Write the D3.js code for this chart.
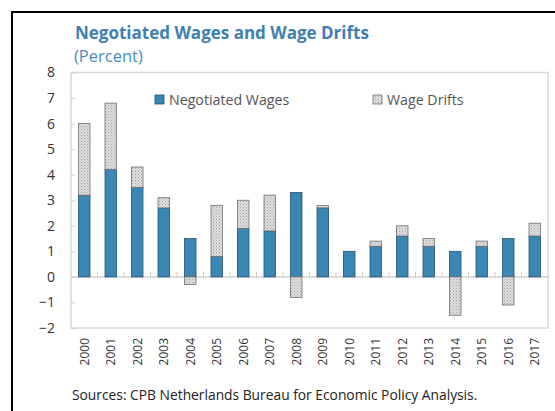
<!DOCTYPE html>
<html>
<head>
<meta charset="utf-8">
<script src="https://cdn.jsdelivr.net/npm/d3@7"></script>
<style>
  body { margin: 0; background: #fff; }
  text { font-family: "Open Sans", "Noto Sans", sans-serif; }
</style>
</head>
<body>
<div id="chart"></div>
<script>
// Data
var years = ["2000", "2001", "2002", "2003", "2004", "2005", "2006", "2007", "2008",
    "2009", "2010", "2011", "2012", "2013", "2014", "2015", "2016", "2017"];
var negotiated = [3.2, 4.2, 3.5, 2.7, 1.5, 0.8, 1.9, 1.8, 3.3, 2.7, 1.0, 1.2, 1.6, 1.2, 1.0, 1.2, 1.5, 1.6];
var drifts = [2.8, 2.6, 0.8, 0.4, -0.3, 2.0, 1.1, 1.4, -0.8, 0.1, 0.0, 0.2, 0.4, 0.3, -1.5, 0.2, -1.1, 0.5];
var yTicks = [-2, -1, 0, 1, 2, 3, 4, 5, 6, 7, 8];
var seriesNames = ["Negotiated Wages", "Wage Drifts"];

var svgWidth = 555;
var svgHeight = 411;

// plot box
var plot = { left: 71, right: 548, top: 72.5, bottom: 328 };

var svg = d3.select("#chart").append("svg")
    .attr("width", svgWidth)
    .attr("height", svgHeight);

// dotted pattern for wage drifts
var defs = svg.append("defs");
var pat = defs.append("pattern")
    .attr("id", "stipple")
    .attr("patternUnits", "userSpaceOnUse")
    .attr("width", 3)
    .attr("height", 3);
pat.append("rect").attr("width", 3).attr("height", 3).attr("fill", "#dedede");
pat.append("rect").attr("x", 0).attr("y", 0).attr("width", 1).attr("height", 1).attr("fill", "#a4a4a4");
pat.append("rect").attr("x", 1.5).attr("y", 1.5).attr("width", 1).attr("height", 1).attr("fill", "#b8b8b8");

// outer frame
svg.append("rect")
    .attr("x", 12).attr("y", 12)
    .attr("width", 600).attr("height", 500)
    .attr("fill", "none")
    .attr("stroke", "#000")
    .attr("stroke-width", 2);

// title
svg.append("text")
    .attr("x", 75).attr("y", 39)
    .attr("font-size", "17px")
    .attr("font-weight", "bold")
    .attr("fill", "#3f7fb3")
    .text("Negotiated Wages and Wage Drifts");

svg.append("text")
    .attr("x", 74).attr("y", 62)
    .attr("font-size", "16.5px")
    .attr("fill", "#4a8cc0")
    .text("(Percent)");

//Scales
var x = d3.scaleBand()
    .domain(years)
    .range([plot.left, plot.right])
    .paddingInner(0.566)
    .paddingOuter(0.283);

var y = d3.scaleLinear()
    .domain([-2, 8])
    .range([plot.bottom, plot.top]);

// plot box
svg.append("rect")
    .attr("x", plot.left).attr("y", plot.top)
    .attr("width", plot.right - plot.left)
    .attr("height", plot.bottom - plot.top)
    .attr("fill", "none")
    .attr("stroke", "#d9d9d9")
    .attr("stroke-width", 1.5);

// y axis
var yAxis = svg.append("g")
    .attr("transform", `translate(${plot.left}, 0)`)
    .call(d3.axisLeft(y).tickValues(yTicks).tickSizeInner(-4).tickSizeOuter(0).tickPadding(16));
yAxis.select(".domain").remove();
yAxis.selectAll("line").attr("stroke", "#d0d0d0");
yAxis.selectAll("text")
    .attr("font-size", "14px")
    .attr("fill", "#333")
    .attr("font-family", "Open Sans, Noto Sans, sans-serif");

// zero line and category separator ticks
svg.append("line")
    .attr("x1", plot.left).attr("x2", plot.right)
    .attr("y1", y(0)).attr("y2", y(0))
    .attr("stroke", "#cfcfcf")
    .attr("stroke-width", 1.5);

var step = x.step();
svg.append("g").selectAll("line")
    .data(years.slice(1))
    .enter()
    .append("line")
    .attr("x1", d => x(d) - step * x.paddingInner() / 2)
    .attr("x2", d => x(d) - step * x.paddingInner() / 2)
    .attr("y1", y(0))
    .attr("y2", y(0) - 5)
    .attr("stroke", "#cfcfcf");

// stacked bars
var rows = years.map((yr, i) => ({ year: yr, nw: negotiated[i], drift: drifts[i] }));
var stack = d3.stack().keys(["nw", "drift"]).offset(d3.stackOffsetDiverging);
var layers = stack(rows);

var fills = { nw: "#3a87b6", drift: "url(#stipple)" };
var strokes = { nw: "#24506e", drift: "#6f6f6f" };

svg.append("g").selectAll("g")
    .data(layers)
    .enter()
    .append("g")
    .each(function(layer) {
        d3.select(this).selectAll("rect")
            .data(layer.filter(d => d[1] - d[0] !== 0))
            .enter()
            .append("rect")
            .attr("x", d => x(d.data.year))
            .attr("width", x.bandwidth())
            .attr("y", d => y(d[1]))
            .attr("height", d => y(d[0]) - y(d[1]))
            .attr("fill", fills[layer.key])
            .attr("stroke", strokes[layer.key])
            .attr("stroke-width", 0.8);
    });

// x labels, rotated
svg.append("g").selectAll("text")
    .data(years)
    .enter()
    .append("text")
    .attr("transform", d => `translate(${x(d) + x.bandwidth() / 2 + 0.5}, 338) rotate(-90)`)
    .attr("text-anchor", "end")
    .attr("dy", "0.35em")
    .attr("font-size", "12px")
    .attr("fill", "#333")
    .text(d => d);

// legend
var legend = svg.append("g");
var legendX = [155, 373];
seriesNames.forEach(function(name, i) {
    legend.append("rect")
        .attr("x", legendX[i]).attr("y", 95)
        .attr("width", 9).attr("height", 9)
        .attr("fill", i === 0 ? fills.nw : fills.drift)
        .attr("stroke", i === 0 ? strokes.nw : strokes.drift)
        .attr("stroke-width", 0.8);
    legend.append("text")
        .attr("x", legendX[i] + 14).attr("y", 104.5)
        .attr("font-size", "14.2px")
        .attr("fill", "#555")
        .text(name);
});

// source note
svg.append("text")
    .attr("x", 72).attr("y", 400)
    .attr("font-size", "13.8px")
    .attr("fill", "#222")
    .text("Sources: CPB Netherlands Bureau for Economic Policy Analysis.");
</script>
</body>
</html>
